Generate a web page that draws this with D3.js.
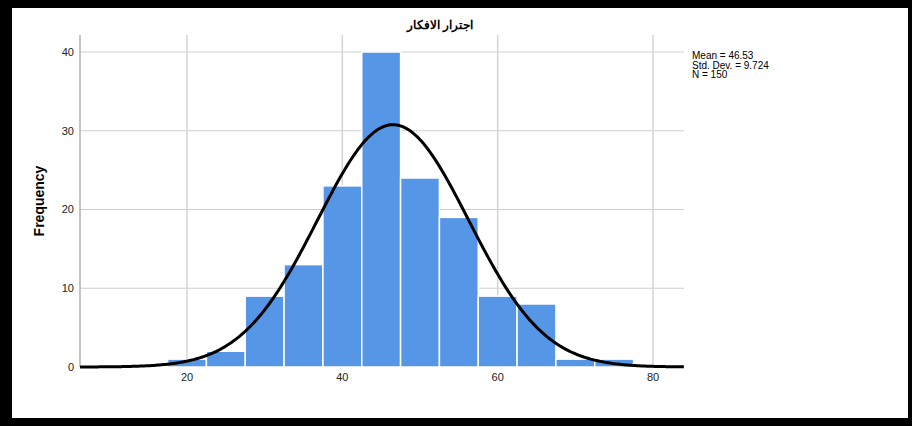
<!DOCTYPE html>
<html>
<head>
<meta charset="utf-8">
<script src="https://cdn.jsdelivr.net/npm/d3@7"></script>
<style>
  html, body { margin: 0; padding: 0; background: #000; }
  svg { display: block; font-family: Arial, "Liberation Sans", sans-serif; }
</style>
</head>
<body>
<div id="chart"></div>
<script>
// Histogram bins (lower edge, upper edge) and frequencies
const binStarts = [17.5, 22.5, 27.5, 32.5, 37.5, 42.5, 47.5, 52.5, 57.5, 62.5, 67.5, 72.5];
const binWidth = 5;
const counts = [1, 2, 9, 13, 23, 40, 24, 19, 9, 8, 1, 1];
const xTicks = [20, 40, 60, 80];
const yTicks = [0, 10, 20, 30, 40];
const stats = { mean: 46.53, sd: 9.724, n: 150 };
const statLines = ["Mean = 46.53", "Std. Dev. = 9.724", "N = 150"];
const title = "اجترار الافكار";

(function () {
  const W = 912, H = 426;
  const svg = d3.select("#chart").append("svg").attr("width", W).attr("height", H);

  // black frame with white inner panel
  svg.append("rect").attr("width", W).attr("height", H).attr("fill", "#000");
  svg.append("rect").attr("x", 12).attr("y", 8).attr("width", 896).attr("height", 410).attr("fill", "#fff");

  const x = d3.scaleLinear().domain([20, 80]).range([187, 653]);
  const y = d3.scaleLinear().domain([0, 40]).range([367, 52]);
  const left = 80, right = 684, top = 35, bottom = 367;

  // grid
  svg.append("g").selectAll("line").data(yTicks.filter(d => d > 0)).join("line")
    .attr("x1", left).attr("x2", right).attr("y1", d => y(d)).attr("y2", d => y(d))
    .attr("stroke", "#cfcfcf").attr("stroke-width", 1);
  svg.append("g").selectAll("line").data(xTicks).join("line")
    .attr("x1", d => x(d)).attr("x2", d => x(d)).attr("y1", top).attr("y2", bottom)
    .attr("stroke", "#d4d4d4").attr("stroke-width", 1.5);

  // bars
  const data = binStarts.map((s, i) => ({ s, c: counts[i] }));
  svg.append("g").selectAll("rect").data(data).join("rect")
    .attr("x", d => x(d.s)).attr("width", d => x(d.s + binWidth) - x(d.s))
    .attr("y", d => y(d.c)).attr("height", d => y(0) - y(d.c))
    .attr("fill", "#5596e6").attr("stroke", "#fff").attr("stroke-width", 1.5);

  // left axis line
  svg.append("line").attr("x1", left).attr("x2", left).attr("y1", top).attr("y2", bottom)
    .attr("stroke", "#b0b0b0").attr("stroke-width", 1.5);

  // normal curve from stated mean / sd / n
  const pdf = v => stats.n * binWidth / (stats.sd * Math.sqrt(2 * Math.PI)) *
    Math.exp(-0.5 * Math.pow((v - stats.mean) / stats.sd, 2));
  const xs = d3.range(x.invert(left), x.invert(right) + 0.01, 0.25);
  svg.append("path").datum(xs)
    .attr("d", d3.line().x(v => x(v)).y(v => y(pdf(v))))
    .attr("fill", "none").attr("stroke", "#000").attr("stroke-width", 3);

  // tick labels
  svg.append("g").selectAll("text").data(xTicks).join("text")
    .attr("x", d => x(d)).attr("y", 381).attr("text-anchor", "middle")
    .attr("font-size", 11).attr("fill", "#222").text(d => d);
  svg.append("g").selectAll("text").data(yTicks).join("text")
    .attr("x", 74).attr("y", d => y(d)).attr("dy", "0.35em").attr("text-anchor", "end")
    .attr("font-size", 11).attr("fill", "#222").text(d => d);

  // axis title
  svg.append("text").attr("transform", "translate(44,201) rotate(-90)")
    .attr("text-anchor", "middle").attr("font-size", 14).attr("font-weight", "bold")
    .attr("fill", "#000").text("Frequency");

  // chart title
  svg.append("text").attr("x", 440).attr("y", 29).attr("text-anchor", "middle")
    .attr("direction", "rtl").attr("font-size", 12).attr("font-weight", "bold")
    .attr("fill", "#000").text(title);

  // stats
  svg.append("g").selectAll("text").data(statLines).join("text")
    .attr("x", 692).attr("y", (d, i) => 59 + i * 9.5)
    .attr("font-size", 10).attr("fill", "#000").text(d => d);
})();
</script>
</body>
</html>
